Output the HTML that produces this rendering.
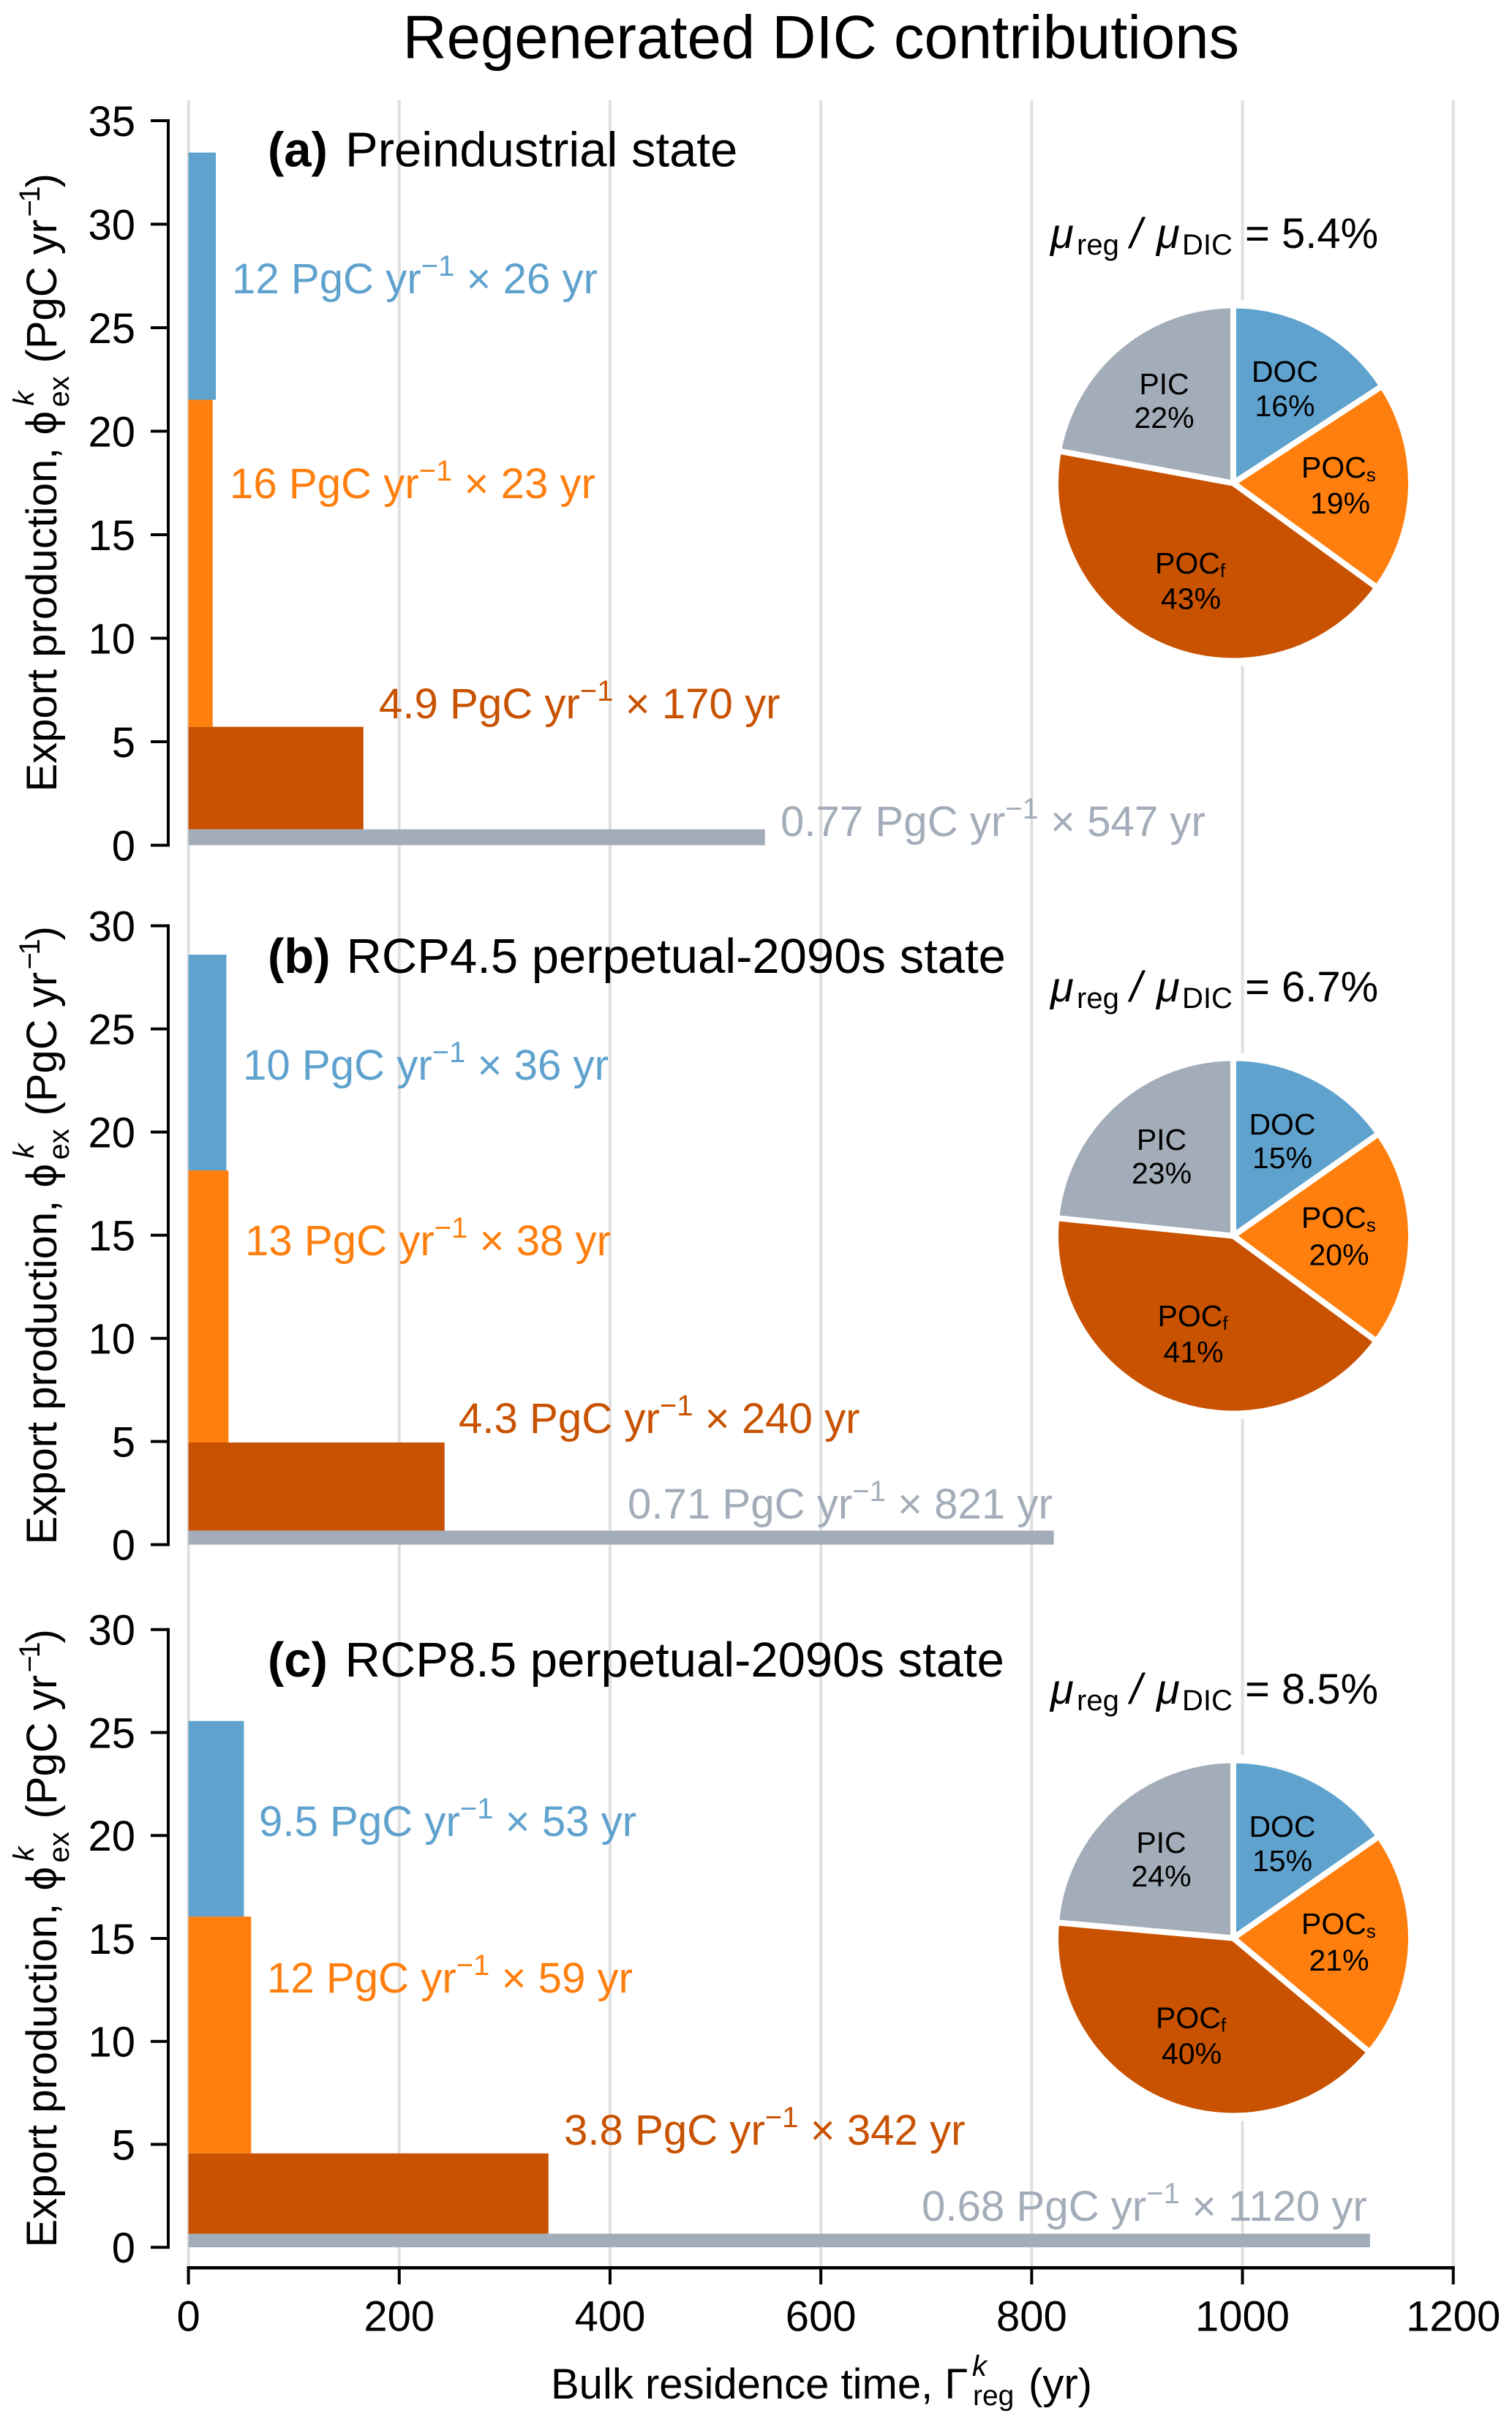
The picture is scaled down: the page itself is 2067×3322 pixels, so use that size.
<!DOCTYPE html>
<html lang="en">
<head>
<meta charset="utf-8">
<title>Regenerated DIC contributions</title>
<style>
html,body{margin:0;padding:0;background:#fff;}
svg{display:block;font-family:"Liberation Sans",sans-serif;}
.tick{font-size:58px;fill:#000;}
.ylab{font-size:58px;fill:#000;}
.ptitle{font-size:67px;fill:#000;}
.ann{font-size:58.2px;}
.mu{font-size:58px;fill:#000;}
.pie{font-size:41px;fill:#000;}
</style>
</head>
<body>
<svg id="chart" width="2067" height="3322" viewBox="0 0 2067 3322" xmlns="http://www.w3.org/2000/svg">
  <rect x="0" y="0" width="2067" height="3322" fill="#fff"/>
  <g id="grid"></g>
  <g id="pies"></g>
  <g id="bars"></g>
  <g id="axes"></g>

  <text x="550.5" y="79.5" font-size="83.3" fill="#000">Regenerated DIC contributions</text>

  <text class="ptitle" y="227.5"><tspan x="366" font-weight="bold">(a)</tspan><tspan x="472">Preindustrial state</tspan></text>
  <text class="ptitle" y="1330"><tspan x="366" font-weight="bold">(b)</tspan><tspan x="473.5">RCP4.5 perpetual-2090s state</tspan></text>
  <text class="ptitle" y="2292"><tspan x="366" font-weight="bold">(c)</tspan><tspan x="471.5">RCP8.5 perpetual-2090s state</tspan></text>

  <!-- bar annotations -->
  <text class="ann" fill="#5FA2CE" x="317" y="401">12 PgC yr<tspan font-size="40" dy="-24">−1</tspan><tspan dy="24"> × 26 yr</tspan></text>
  <text class="ann" fill="#FF7F0E" x="314" y="681">16 PgC yr<tspan font-size="40" dy="-24">−1</tspan><tspan dy="24"> × 23 yr</tspan></text>
  <text class="ann" fill="#C85200" x="518" y="982">4.9 PgC yr<tspan font-size="40" dy="-24">−1</tspan><tspan dy="24"> × 170 yr</tspan></text>
  <text class="ann" fill="#A3ACB9" x="1067" y="1143">0.77 PgC yr<tspan font-size="40" dy="-24">−1</tspan><tspan dy="24"> × 547 yr</tspan></text>

  <text class="ann" fill="#5FA2CE" x="332" y="1476">10 PgC yr<tspan font-size="40" dy="-24">−1</tspan><tspan dy="24"> × 36 yr</tspan></text>
  <text class="ann" fill="#FF7F0E" x="335" y="1716">13 PgC yr<tspan font-size="40" dy="-24">−1</tspan><tspan dy="24"> × 38 yr</tspan></text>
  <text class="ann" fill="#C85200" x="627" y="1959">4.3 PgC yr<tspan font-size="40" dy="-24">−1</tspan><tspan dy="24"> × 240 yr</tspan></text>
  <text class="ann" fill="#A3ACB9" x="858" y="2076">0.71 PgC yr<tspan font-size="40" dy="-24">−1</tspan><tspan dy="24"> × 821 yr</tspan></text>

  <text class="ann" fill="#5FA2CE" x="354" y="2510">9.5 PgC yr<tspan font-size="40" dy="-24">−1</tspan><tspan dy="24"> × 53 yr</tspan></text>
  <text class="ann" fill="#FF7F0E" x="365" y="2724">12 PgC yr<tspan font-size="40" dy="-24">−1</tspan><tspan dy="24"> × 59 yr</tspan></text>
  <text class="ann" fill="#C85200" x="771" y="2932">3.8 PgC yr<tspan font-size="40" dy="-24">−1</tspan><tspan dy="24"> × 342 yr</tspan></text>
  <text class="ann" fill="#A3ACB9" x="1260" y="3036">0.68 PgC yr<tspan font-size="40" dy="-24">−1</tspan><tspan dy="24"> × 1120 yr</tspan></text>

  <!-- mu ratio annotations -->
  <text class="mu" y="339"><tspan x="1436" font-style="italic">μ</tspan><tspan x="1472" y="348" font-size="40">reg</tspan><tspan x="1545" y="339" font-style="italic">/</tspan><tspan x="1581" font-style="italic">μ</tspan><tspan x="1616" y="348" font-size="40">DIC</tspan><tspan x="1702" y="339">= 5.4%</tspan></text>
  <text class="mu" y="1369"><tspan x="1436" font-style="italic">μ</tspan><tspan x="1472" y="1378" font-size="40">reg</tspan><tspan x="1545" y="1369" font-style="italic">/</tspan><tspan x="1581" font-style="italic">μ</tspan><tspan x="1616" y="1378" font-size="40">DIC</tspan><tspan x="1702" y="1369">= 6.7%</tspan></text>
  <text class="mu" y="2329"><tspan x="1436" font-style="italic">μ</tspan><tspan x="1472" y="2338" font-size="40">reg</tspan><tspan x="1545" y="2329" font-style="italic">/</tspan><tspan x="1581" font-style="italic">μ</tspan><tspan x="1616" y="2338" font-size="40">DIC</tspan><tspan x="1702" y="2329">= 8.5%</tspan></text>

  <!-- pie labels a -->
  <g class="pie" text-anchor="middle">
    <text x="1756.5" y="522">DOC</text>
    <text x="1756.5" y="569">16%</text>
    <text x="1591.5" y="539">PIC</text>
    <text x="1591.5" y="585">22%</text>
    <text x="1779" y="653" text-anchor="start">POC<tspan font-size="26" dy="5">s</tspan></text>
    <text x="1832" y="702">19%</text>
    <text x="1579" y="784" text-anchor="start">POC<tspan font-size="26" dy="5">f</tspan></text>
    <text x="1628" y="832.5">43%</text>
  </g>
  <!-- pie labels b -->
  <g class="pie" text-anchor="middle">
    <text x="1753" y="1551">DOC</text>
    <text x="1753" y="1597">15%</text>
    <text x="1588" y="1572">PIC</text>
    <text x="1588" y="1618">23%</text>
    <text x="1779" y="1678.5" text-anchor="start">POC<tspan font-size="26" dy="5">s</tspan></text>
    <text x="1830.5" y="1729.5">20%</text>
    <text x="1582.5" y="1813" text-anchor="start">POC<tspan font-size="26" dy="5">f</tspan></text>
    <text x="1631.5" y="1862.5">41%</text>
  </g>
  <!-- pie labels c -->
  <g class="pie" text-anchor="middle">
    <text x="1753" y="2511">DOC</text>
    <text x="1753" y="2558">15%</text>
    <text x="1587.5" y="2533">PIC</text>
    <text x="1587.5" y="2579">24%</text>
    <text x="1779" y="2644" text-anchor="start">POC<tspan font-size="26" dy="5">s</tspan></text>
    <text x="1830.5" y="2694">21%</text>
    <text x="1580" y="2772.5" text-anchor="start">POC<tspan font-size="26" dy="5">f</tspan></text>
    <text x="1629" y="2821.5">40%</text>
  </g>

  <!-- y axis titles -->
  <text class="ylab" transform="translate(77,1082.5) rotate(-90)"><tspan x="0" y="0">Export production,</tspan><tspan x="488" y="0">ϕ</tspan><tspan x="526" y="17" font-size="40">ex</tspan><tspan x="528" y="-31" font-size="40" font-style="italic">k</tspan><tspan x="586" y="0">(PgC yr</tspan><tspan x="786" y="-23" font-size="40">−</tspan><tspan x="806" y="-23" font-size="40">1</tspan><tspan x="826" y="0">)</tspan></text>
  <text class="ylab" transform="translate(77,2111.5) rotate(-90)"><tspan x="0" y="0">Export production,</tspan><tspan x="488" y="0">ϕ</tspan><tspan x="526" y="17" font-size="40">ex</tspan><tspan x="528" y="-31" font-size="40" font-style="italic">k</tspan><tspan x="586" y="0">(PgC yr</tspan><tspan x="786" y="-23" font-size="40">−</tspan><tspan x="806" y="-23" font-size="40">1</tspan><tspan x="826" y="0">)</tspan></text>
  <text class="ylab" transform="translate(77,3072.5) rotate(-90)"><tspan x="0" y="0">Export production,</tspan><tspan x="488" y="0">ϕ</tspan><tspan x="526" y="17" font-size="40">ex</tspan><tspan x="528" y="-31" font-size="40" font-style="italic">k</tspan><tspan x="586" y="0">(PgC yr</tspan><tspan x="786" y="-23" font-size="40">−</tspan><tspan x="806" y="-23" font-size="40">1</tspan><tspan x="826" y="0">)</tspan></text>

  <!-- x axis title -->
  <text font-size="58" fill="#000" y="3279"><tspan x="753">Bulk residence time, Γ</tspan><tspan x="1329" y="3248" font-size="40" font-style="italic">k</tspan><tspan x="1330" y="3288" font-size="39">reg</tspan><tspan x="1406" y="3279">(yr)</tspan></text>
</svg>

<script>
// Categories (in stacking order, top of the stack first)
const categories = ['DOC', 'POCs', 'POCf', 'PIC'];
const colors = ['#5FA2CE', '#FF7F0E', '#C85200', '#A3ACB9'];

// Tick labels
const xTicks = [0, 200, 400, 600, 800, 1000, 1200];
const yTicksA = [0, 5, 10, 15, 20, 25, 30, 35];
const yTicksB = [0, 5, 10, 15, 20, 25, 30];
const yTicksC = [0, 5, 10, 15, 20, 25, 30];

// Panel (a) Preindustrial
const fluxA = [11.94, 15.8, 4.95, 0.77];
const timeA = [26, 23, 166, 547];
const shareA = [15.8, 19.2, 42.9, 22.1];

// Panel (b) RCP4.5
const fluxB = [10.46, 13.19, 4.27, 0.68];
const timeB = [36, 38, 243, 821];
const shareB = [15.25, 19.85, 41.5, 23.4];

// Panel (c) RCP8.5
const fluxC = [9.5, 11.5, 3.9, 0.66];
const timeC = [52.6, 59.5, 341.6, 1121];
const shareC = [15.3, 20.8, 40.3, 23.6];

const SVGNS = 'http://www.w3.org/2000/svg';
const gridLayer = document.getElementById('grid');
const pieLayer = document.getElementById('pies');
const barLayer = document.getElementById('bars');
const axisLayer = document.getElementById('axes');

function make(tag, attrs, parent) {
  const el = document.createElementNS(SVGNS, tag);
  for (const k in attrs) el.setAttribute(k, attrs[k]);
  parent.appendChild(el);
  return el;
}

function xScale(v) {
  return 257.6 + (v / 1200) * (1986.7 - 257.6);
}
function yScaleFactory(zeroPx, topPx, topValue) {
  return function (v) {
    return zeroPx + (v / topValue) * (topPx - zeroPx);
  };
}

// Grid lines and x axis
xTicks.forEach(function (t) {
  const g = make('line', { x1: xScale(t), x2: xScale(t), y1: 137, y2: 3100, stroke: '#e0e0e0', 'stroke-width': 4 }, gridLayer);
  
  

  const tk = make('line', { x1: xScale(t), x2: xScale(t), y1: 3100, y2: 3123, stroke: '#000', 'stroke-width': 4 }, axisLayer);
  
  

  const lb = make('text', { x: xScale(t), y: 3186.5, 'text-anchor': 'middle', class: 'tick' }, axisLayer);
  lb.textContent = String(t);
  
  
});
const xSpine = make('line', { x1: xScale(0) - 2, x2: xScale(1200) + 2, y1: 3100.3, y2: 3100.3, stroke: '#000', 'stroke-width': 4.5 }, axisLayer);



function drawYAxis(ticks, y) {
  const top = ticks[ticks.length - 1];
  const spine = make('line', { x1: 230, x2: 230, y1: y(top) - 2, y2: y(0) + 2, stroke: '#000', 'stroke-width': 4 }, axisLayer);
  
  
  ticks.forEach(function (t) {
    const tk = make('line', { x1: 206, x2: 230, y1: y(t), y2: y(t), stroke: '#000', 'stroke-width': 4 }, axisLayer);
    
    
    const lb = make('text', { x: 185, y: y(t) + 21, 'text-anchor': 'end', class: 'tick' }, axisLayer);
    lb.textContent = String(t);
    
    
  });
}

function drawBars(flux, time, y) {
  let base = 0;
  for (let i = flux.length - 1; i >= 0; i--) {
    const top = base + flux[i];
    const bar = make('rect', {
      x: xScale(0),
      y: y(top),
      width: xScale(time[i]) - xScale(0),
      height: y(base) - y(top),
      fill: colors[i]
    }, barLayer);
    
    
    base = top;
  }
}

function drawPie(share, cx, cy, r) {
  const halo = make('rect', { x: cx - 250, y: cy - 250, width: 500, height: 500, fill: '#fff' }, pieLayer);
  
  
  const total = share.reduce(function (a, b) { return a + b; }, 0);
  let acc = 0;
  share.forEach(function (s, i) {
    const a0 = acc / total * 2 * Math.PI;
    acc += s;
    const a1 = acc / total * 2 * Math.PI;
    const x0 = cx + r * Math.sin(a0), y0 = cy - r * Math.cos(a0);
    const x1 = cx + r * Math.sin(a1), y1 = cy - r * Math.cos(a1);
    const large = (a1 - a0) > Math.PI ? 1 : 0;
    const d = 'M' + cx + ' ' + cy + ' L' + x0 + ' ' + y0 + ' A' + r + ' ' + r + ' 0 ' + large + ' 1 ' + x1 + ' ' + y1 + ' Z';
    const w = make('path', { d: d, fill: colors[i], stroke: '#fff', 'stroke-width': 8, 'stroke-linejoin': 'round' }, pieLayer);
    
    
  });
}

const yA = yScaleFactory(1155.5, 165, 35);
const yB = yScaleFactory(2111.6, 1265.6, 30);
const yC = yScaleFactory(3072.2, 2227.7, 30);

drawYAxis(yTicksA, yA);
drawYAxis(yTicksB, yB);
drawYAxis(yTicksC, yC);

drawBars(fluxA, timeA, yA);
drawBars(fluxB, timeB, yB);
drawBars(fluxC, timeC, yC);

drawPie(shareA, 1686, 660.5, 243);
drawPie(shareB, 1686, 1689.5, 243);
drawPie(shareC, 1686, 2649.5, 243);
</script>
</body>
</html>
